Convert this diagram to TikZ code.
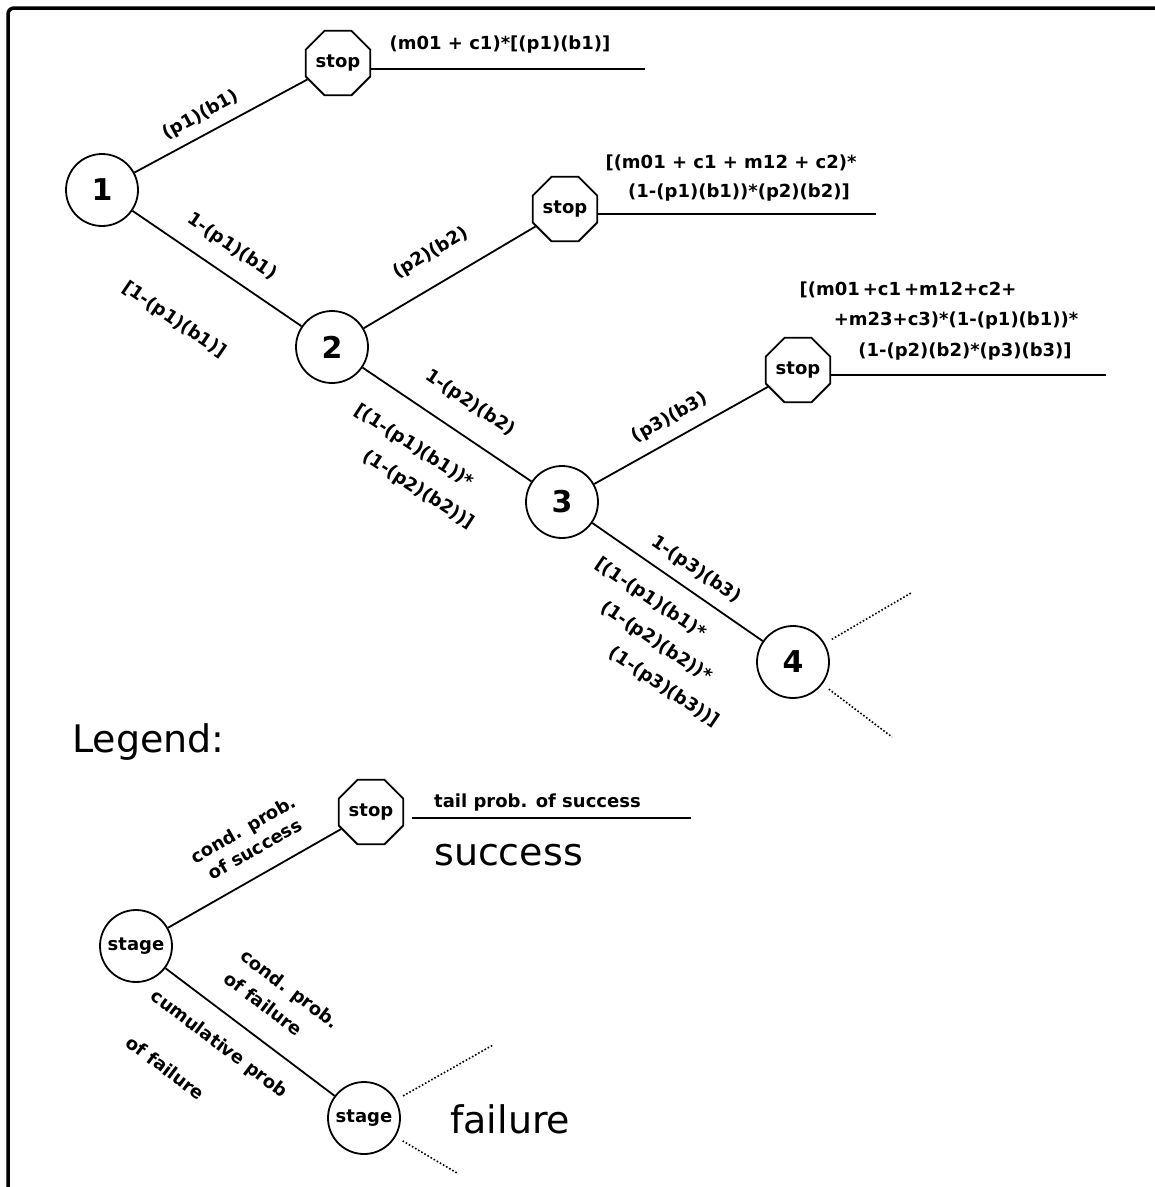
\documentclass[tikz,border=0pt]{standalone}
\usepackage{fontspec}
\setmainfont{DejaVu Sans}
\usetikzlibrary{shapes.geometric}
\newcommand\mylbl{\fontsize{18}{22}\selectfont\bfseries}
\newcommand\mynum{\fontsize{30}{36}\selectfont\bfseries}
\newcommand\mybig{\fontsize{38}{44}\selectfont}
\begin{document}
\begin{tikzpicture}[x=1pt,y=-1pt,
  stagenode/.style={circle,draw,line width=1.8pt,minimum size=72pt,inner sep=0pt},
  stopbox/.style={regular polygon,regular polygon sides=8,draw,line width=1.8pt,minimum size=70pt,inner sep=0pt,font=\mylbl},
  linkline/.style={line width=1.8pt},
  lbl/.style={font=\mylbl,inner sep=0pt},
  block/.style={inner sep=0pt,font={\fontsize{18}{#1}\selectfont\bfseries}},
  bigtext/.style={font=\mybig,inner sep=0pt,anchor=base west},
  dots/.style={dotted,line width=1.6pt,shorten <=8pt}]
\useasboundingbox (0,0) rectangle (1155,1187);
\draw[line width=3.5pt,rounded corners=6pt] (8,1187) -- (8,8) -- (1155,8);

% main tree nodes
\node[stagenode,font=\mynum] (n1) at (102,190) {1};
\node[stagenode,font=\mynum] (n2) at (332,347) {2};
\node[stagenode,font=\mynum] (n3) at (562,502) {3};
\node[stagenode,font=\mynum] (n4) at (793,662) {4};
\node[stopbox] (s1) at (338,63) {stop};
\node[stopbox] (s2) at (565,209) {stop};
\node[stopbox] (s3) at (798,370) {stop};

\draw[linkline] (n1) -- (s1);
\draw[linkline] (n1) -- (n2);
\draw[linkline] (n2) -- (s2);
\draw[linkline] (n2) -- (n3);
\draw[linkline] (n3) -- (s3);
\draw[linkline] (n3) -- (n4);

\coordinate (e1) at (645,69);
\coordinate (e2) at (876,214);
\coordinate (e3) at (1106,375);
\draw[linkline] (s1.east |- e1) -- (e1);
\draw[linkline] (s2.east |- e2) -- (e2);
\draw[linkline] (s3.east |- e3) -- (e3);

\coordinate (d4a) at (911,593);
\coordinate (d4b) at (892,737);
\draw[dots] (n4) -- (d4a);
\draw[dots] (n4) -- (d4b);

% result texts
\node[lbl] (t1) at (500,45) {(m01 + c1)*[(p1)(b1)]};
\node[lbl] (t2a) at (731,163) {[(m01 + c1 + m12 + c2)*};
\node[lbl] (t2b) at (739,193) {(1-(p1)(b1))*(p2)(b2)]};
\node[lbl] (t3a) at (908,290) {[(m01\,+c1\,+m12+c2+};
\node[lbl] (t3b) at (956,321) {+m23+c3)*(1-(p1)(b1))*};
\node[lbl] (t3c) at (965,352) {(1-(p2)(b2)*(p3)(b3)]};

% edge labels
\node[lbl,rotate=28.3] (l1s) at (201,115) {(p1)(b1)};
\node[lbl,rotate=-34.3] (l12a) at (232,247) {1-(p1)(b1)};
\node[lbl,rotate=-34.3] (l12b) at (174,320) {[1-(p1)(b1)]};
\node[lbl,rotate=30.6] (l2s) at (431,253) {(p2)(b2)};
\node[lbl,rotate=-34] (l23a) at (470,403) {1-(p2)(b2)};
\node[block=34,align=left,rotate=-33] (l23b) at (414,467)
  {[(1-(p1)(b1))*\\\hspace*{32pt}(1-(p2)(b2))]};
\node[lbl,rotate=29.2] (l3s) at (670,418) {(p3)(b3)};
\node[lbl,rotate=-34.7] (l34a) at (696,570) {1-(p3)(b3)};
\node[block=33,align=left,rotate=-34] (l34b) at (657,643)
  {[(1-(p1)(b1)*\\\hspace*{29pt}(1-(p2)(b2))*\\\hspace*{61pt}(1-(p3)(b3))]};

% legend
\node[bigtext] (leg) at (72,752) {Legend:};
\node[stagenode,font=\mylbl] (g1) at (136,946) {stage};
\node[stagenode,font=\mylbl] (g2) at (364,1118) {stage};
\node[stopbox] (gs) at (371,812) {stop};
\draw[linkline] (g1) -- (gs);
\draw[linkline] (g1) -- (g2);
\coordinate (ls1) at (412,818);
\coordinate (ls2) at (691,818);
\draw[linkline] (ls1) -- (ls2);
\node[lbl,anchor=base west] (tail) at (434,807) {tail prob. of success};
\node[bigtext] (succ) at (434,865) {success};
\node[bigtext] (fail) at (450,1133) {failure};
\coordinate (dga) at (493,1045);
\coordinate (dgb) at (457,1173);
\draw[dots] (g2) -- (dga);
\draw[dots] (g2) -- (dgb);

\node[block=23,align=center,rotate=29.7] (cs) at (249,839) {cond. prob.\\of success};
\node[block=28,align=left,rotate=-37] (cf) at (282,1000) {cond. prob.\\of failure};
\node[block=52,align=left,rotate=-37] (cu) at (204,1064) {cumulative prob\\\hspace*{8pt}of failure};
\end{tikzpicture}
\end{document}
